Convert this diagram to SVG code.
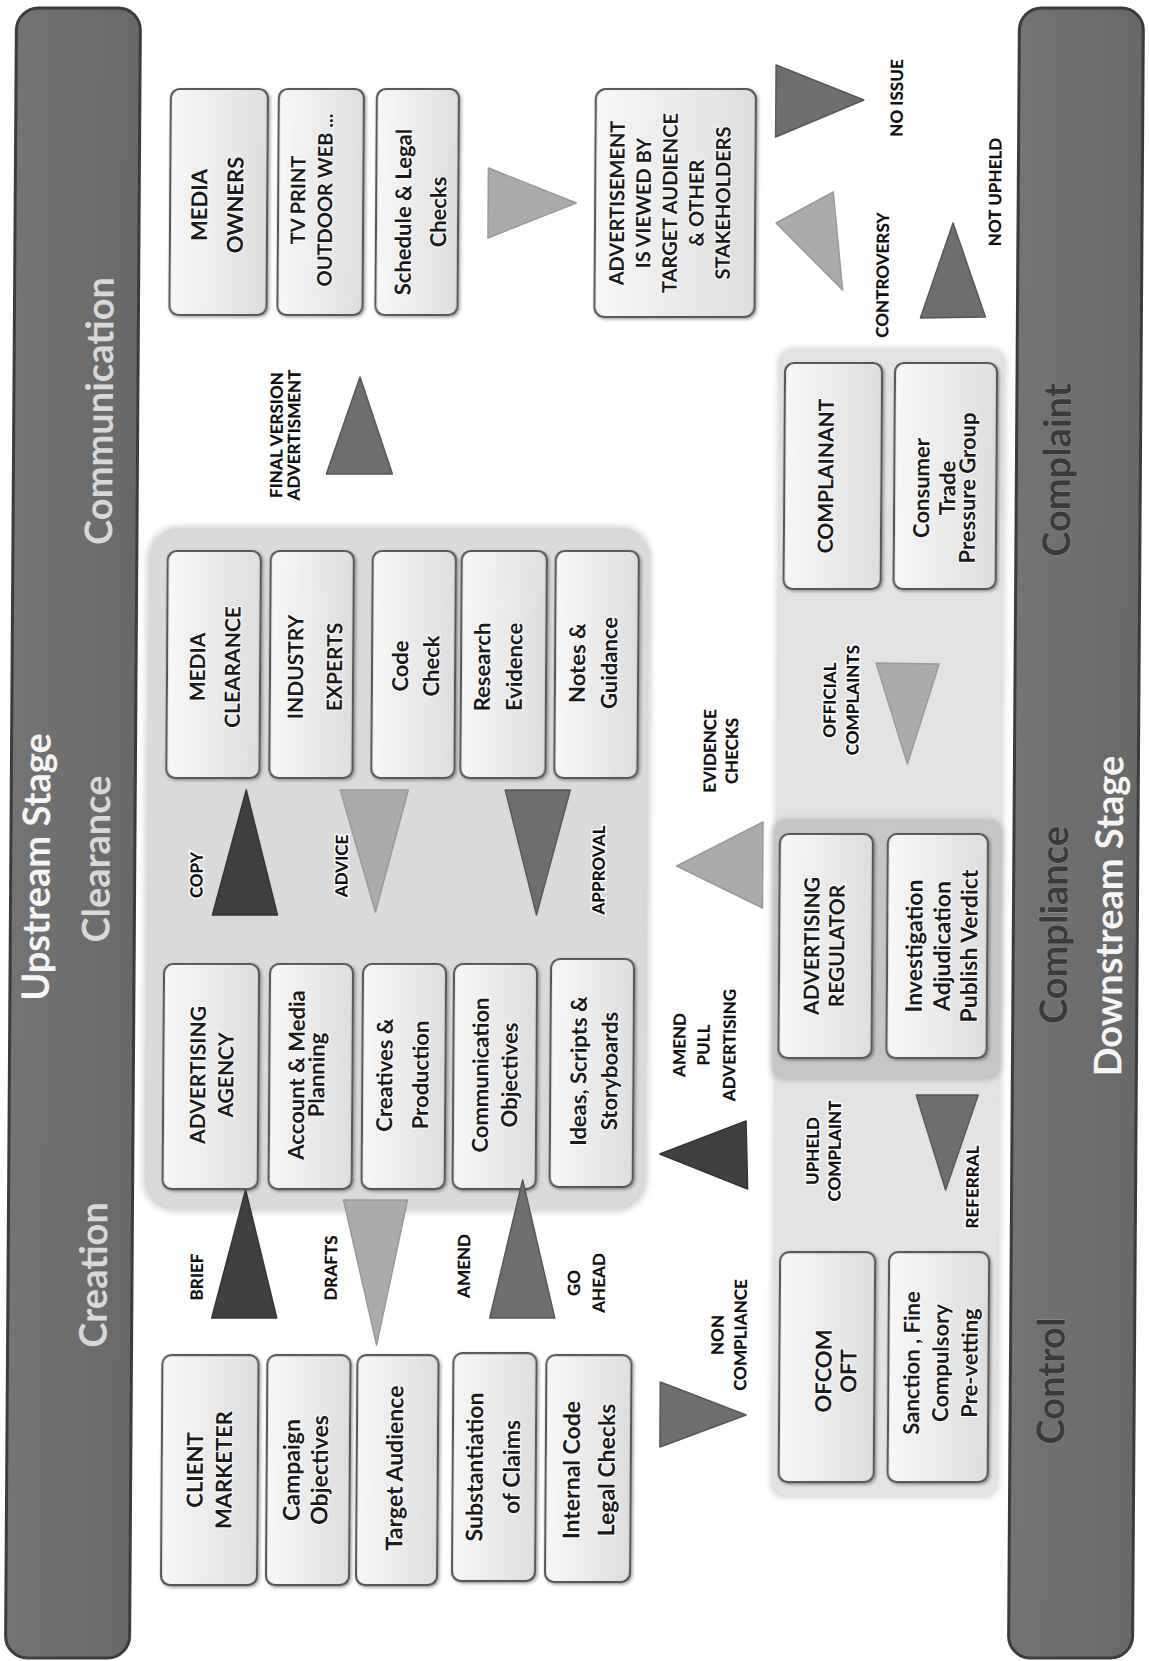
<svg xmlns="http://www.w3.org/2000/svg" width="1149" height="1661" viewBox="0 0 1149 1661">
  <defs>
    <linearGradient id="boxFill" x1="0" y1="0" x2="1" y2="0">
      <stop offset="0" stop-color="#f7f7f7"/>
      <stop offset="1" stop-color="#dedede"/>
    </linearGradient>
    <linearGradient id="barFill" x1="0" y1="0" x2="1" y2="0">
      <stop offset="0" stop-color="#747474"/>
      <stop offset="1" stop-color="#686868"/>
    </linearGradient>
    <filter id="soft" x="-10%" y="-10%" width="120%" height="120%">
      <feGaussianBlur stdDeviation="3"/>
    </filter>
    <filter id="shadow" x="-10%" y="-10%" width="120%" height="120%">
      <feDropShadow dx="1.5" dy="1.5" stdDeviation="1.5" flood-color="#000" flood-opacity="0.35"/>
    </filter>
  </defs>
  <style>
    .bar { fill: url(#barFill); stroke: #3c3c3c; stroke-width: 3; }
    .barStage { font-family: Lato, 'Open Sans', 'DejaVu Sans', sans-serif; font-weight: 700; font-size: 38px; fill: #f5f5f5; text-anchor: middle; }
    .barLight { font-family: Lato, 'Open Sans', 'DejaVu Sans', sans-serif; font-weight: 700; font-size: 38px; fill: #d8d8d8; text-anchor: middle; }
    .barDark { font-family: Lato, 'Open Sans', 'DejaVu Sans', sans-serif; font-weight: 700; font-size: 38px; fill: #3a3a3a; text-anchor: middle; stroke: #8a8a8a; stroke-width: 1.2; paint-order: stroke; }
    .box { fill: url(#boxFill); stroke: #585858; stroke-width: 2.2; filter: url(#shadow); }
    .nt { font-family: Lato, 'Open Sans', 'DejaVu Sans', sans-serif; font-weight: 700; fill: #1a1a1a; text-anchor: middle; stroke: #ffffff; stroke-width: 2; paint-order: stroke; }
    .lbl { font-family: Lato, 'Open Sans', 'DejaVu Sans', sans-serif; font-weight: 900; font-size: 17px; fill: #111; text-anchor: middle; stroke: #fff; stroke-width: 3; paint-order: stroke; }
    .triDark { fill: #404040; stroke: #333; stroke-width: 1.5; stroke-linejoin: round; }
    .triMid { fill: #6e6e6e; stroke: #575757; stroke-width: 1.5; stroke-linejoin: round; }
    .triLight { fill: #ababab; stroke: #9a9a9a; stroke-width: 1.5; stroke-linejoin: round; }
  </style>

  <rect x="0" y="0" width="1149" height="1661" fill="#ffffff"/>

  <!-- whole figure sits slightly sheared, as printed -->
  <g transform="translate(5.53,0) skewX(-0.382)">

    <!-- lane header bars -->
    <g id="upstream-bar">
      <rect class="bar" x="11" y="8" width="124" height="1650" rx="22"/>
      <text class="barStage" transform="translate(0,867) rotate(-90)"><tspan x="0" y="50">Upstream Stage</tspan></text>
      <text class="barLight" transform="translate(0,411) rotate(-90)"><tspan x="0" y="110">Communication</tspan></text>
      <text class="barLight" transform="translate(0,859) rotate(-90)"><tspan x="0" y="110">Clearance</tspan></text>
      <text class="barLight" transform="translate(0,1275) rotate(-90)"><tspan x="0" y="110">Creation</tspan></text>
    </g>
    <g id="downstream-bar">
      <rect class="bar" x="1014" y="8" width="124" height="1650" rx="22"/>
      <text class="barDark" transform="translate(0,470) rotate(-90)"><tspan x="0" y="1068">Complaint</tspan></text>
      <text class="barDark" transform="translate(0,925) rotate(-90)"><tspan x="0" y="1068">Compliance</tspan></text>
      <text class="barDark" transform="translate(0,1381) rotate(-90)"><tspan x="0" y="1068">Control</tspan></text>
      <text class="barStage" transform="translate(0,916) rotate(-90)"><tspan x="0" y="1123">Downstream Stage</tspan></text>
    </g>

    <!-- background panels -->
    <g id="clearance-panel">
      <rect x="145" y="526" width="505" height="686" rx="32" fill="#d2d2d2" filter="url(#soft)"/>
      <rect x="149" y="530" width="497" height="678" rx="30" fill="#dadada"/>
    </g>
    <g id="downstream-panel">
      <rect x="775" y="348" width="228" height="1150" rx="14" fill="#d6d6d6" filter="url(#soft)"/>
      <rect x="778" y="351" width="222" height="1144" rx="12" fill="#e3e3e3"/>
    </g>
    <g id="regulator-panel">
      <rect x="773" y="819" width="229" height="261" rx="14" fill="#b4b4b4" filter="url(#soft)"/>
      <rect x="775" y="821" width="225" height="257" rx="13" fill="#c6c6c6"/>
    </g>

    <!-- communication column -->
    <g id="media-owners">
      <rect class="box" x="166" y="89" width="97" height="226" rx="9"/>
      <text class="nt" font-size="22" transform="translate(0,205) rotate(-90)"><tspan x="0" y="203">MEDIA</tspan><tspan x="0" y="239">OWNERS</tspan></text>
    </g>
    <g id="media-channels">
      <rect class="box" x="274" y="89" width="85" height="226" rx="9"/>
      <text class="nt" font-size="20" transform="translate(0,200) rotate(-90)"><tspan x="0" y="301">TV PRINT</tspan><tspan x="0" y="328">OUTDOOR WEB ...</tspan></text>
    </g>
    <g id="schedule-checks">
      <rect class="box" x="372" y="89" width="82" height="226" rx="9"/>
      <text class="nt" font-size="22" transform="translate(0,212) rotate(-90)"><tspan x="0" y="407">Schedule &amp; Legal</tspan><tspan x="0" y="442">Checks</tspan></text>
    </g>
    <g id="ad-viewed">
      <rect class="box" x="591" y="89" width="160" height="228" rx="10"/>
      <text class="nt" font-size="20" transform="translate(0,203) rotate(-90)"><tspan x="0" y="620">ADVERTISEMENT</tspan><tspan x="0" y="646.5">IS VIEWED BY</tspan><tspan x="0" y="673">TARGET AUDIENCE</tspan><tspan x="0" y="699.5">&amp; OTHER</tspan><tspan x="0" y="726">STAKEHOLDERS</tspan></text>
    </g>

    <!-- clearance column -->
    <g id="media-clearance">
      <rect class="box" x="166" y="551" width="93" height="227" rx="9"/>
      <text class="nt" font-size="21" transform="translate(0,667) rotate(-90)"><tspan x="0" y="204">MEDIA</tspan><tspan x="0" y="239">CLEARANCE</tspan></text>
    </g>
    <g id="industry-experts">
      <rect class="box" x="269" y="551" width="83" height="227" rx="9"/>
      <text class="nt" font-size="21" transform="translate(0,667) rotate(-90)"><tspan x="0" y="302">INDUSTRY</tspan><tspan x="0" y="341">EXPERTS</tspan></text>
    </g>
    <g id="code-check">
      <rect class="box" x="371" y="551" width="83" height="227" rx="9"/>
      <text class="nt" font-size="22" transform="translate(0,666) rotate(-90)"><tspan x="0" y="407">Code</tspan><tspan x="0" y="438">Check</tspan></text>
    </g>
    <g id="research-evidence">
      <rect class="box" x="460" y="551" width="85" height="227" rx="9"/>
      <text class="nt" font-size="22" transform="translate(0,667) rotate(-90)"><tspan x="0" y="489">Research</tspan><tspan x="0" y="521">Evidence</tspan></text>
    </g>
    <g id="notes-guidance">
      <rect class="box" x="554" y="551" width="83" height="227" rx="9"/>
      <text class="nt" font-size="22" transform="translate(0,663) rotate(-90)"><tspan x="0" y="584">Notes &amp;</tspan><tspan x="0" y="616">Guidance</tspan></text>
    </g>
    <g id="advertising-agency">
      <rect class="box" x="165" y="964" width="95" height="225" rx="9"/>
      <text class="nt" font-size="21" transform="translate(0,1075) rotate(-90)"><tspan x="0" y="207">ADVERTISING</tspan><tspan x="0" y="235">AGENCY</tspan></text>
    </g>
    <g id="account-planning">
      <rect class="box" x="271" y="964" width="83" height="225" rx="9"/>
      <text class="nt" font-size="22" transform="translate(0,1075) rotate(-90)"><tspan x="0" y="306">Account &amp; Media</tspan><tspan x="0" y="326">Planning</tspan></text>
    </g>
    <g id="creatives-production">
      <rect class="box" x="364" y="964" width="83" height="225" rx="9"/>
      <text class="nt" font-size="22" transform="translate(0,1075) rotate(-90)"><tspan x="0" y="394">Creatives &amp;</tspan><tspan x="0" y="430">Production</tspan></text>
    </g>
    <g id="communication-objectives">
      <rect class="box" x="455" y="964" width="83" height="225" rx="9"/>
      <text class="nt" font-size="22" transform="translate(0,1075) rotate(-90)"><tspan x="0" y="490">Communication</tspan><tspan x="0" y="519">Objectives</tspan></text>
    </g>
    <g id="ideas-storyboards">
      <rect class="box" x="552" y="959" width="83" height="228" rx="9"/>
      <text class="nt" font-size="22" transform="translate(0,1071) rotate(-90)"><tspan x="0" y="588">Ideas, Scripts &amp;</tspan><tspan x="0" y="619">Storyboards</tspan></text>
    </g>

    <!-- creation column -->
    <g id="client-marketer">
      <rect class="box" x="166" y="1355" width="96" height="230" rx="9"/>
      <text class="nt" font-size="22" transform="translate(0,1470) rotate(-90)"><tspan x="0" y="207">CLIENT</tspan><tspan x="0" y="236">MARKETER</tspan></text>
    </g>
    <g id="campaign-objectives">
      <rect class="box" x="271" y="1355" width="83" height="230" rx="9"/>
      <text class="nt" font-size="23" transform="translate(0,1470) rotate(-90)"><tspan x="0" y="304">Campaign</tspan><tspan x="0" y="332">Objectives</tspan></text>
    </g>
    <g id="target-audience">
      <rect class="box" x="361" y="1355" width="81" height="230" rx="9"/>
      <text class="nt" font-size="23" transform="translate(0,1468) rotate(-90)"><tspan x="0" y="407">Target Audience</tspan></text>
    </g>
    <g id="substantiation">
      <rect class="box" x="457" y="1353" width="83" height="228" rx="9"/>
      <text class="nt" font-size="23" transform="translate(0,1467) rotate(-90)"><tspan x="0" y="487">Substantiation</tspan><tspan x="0" y="524">of Claims</tspan></text>
    </g>
    <g id="internal-checks">
      <rect class="box" x="550" y="1355" width="85" height="227" rx="9"/>
      <text class="nt" font-size="23" transform="translate(0,1470) rotate(-90)"><tspan x="0" y="584">Internal Code</tspan><tspan x="0" y="619">Legal Checks</tspan></text>
    </g>

    <!-- downstream column -->
    <g id="complainant">
      <rect class="box" x="782" y="363" width="97" height="226" rx="9"/>
      <text class="nt" font-size="21" transform="translate(0,476) rotate(-90)"><tspan x="0" y="831">COMPLAINANT</tspan></text>
    </g>
    <g id="complainant-types">
      <rect class="box" x="892" y="363" width="102" height="226" rx="9"/>
      <text class="nt" font-size="22" transform="translate(0,488) rotate(-90)"><tspan x="0" y="927">Consumer</tspan><tspan x="0" y="953">Trade</tspan><tspan x="0" y="973">Pressure Group</tspan></text>
    </g>
    <g id="advertising-regulator">
      <rect class="box" x="780" y="834" width="93" height="224" rx="9"/>
      <text class="nt" font-size="21" transform="translate(0,946) rotate(-90)"><tspan x="0" y="820">ADVERTISING</tspan><tspan x="0" y="845">REGULATOR</tspan></text>
    </g>
    <g id="investigation">
      <rect class="box" x="888" y="834" width="100" height="224" rx="9"/>
      <text class="nt" font-size="23" transform="translate(0,946) rotate(-90)"><tspan x="0" y="923">Investigation</tspan><tspan x="0" y="951">Adjudication</tspan><tspan x="0" y="978">Publish Verdict</tspan></text>
    </g>
    <g id="ofcom-oft">
      <rect class="box" x="783" y="1252" width="95" height="230" rx="9"/>
      <text class="nt" font-size="22" transform="translate(0,1371) rotate(-90)"><tspan x="0" y="835">OFCOM</tspan><tspan x="0" y="860">OFT</tspan></text>
    </g>
    <g id="sanctions">
      <rect class="box" x="892" y="1252" width="100" height="230" rx="9"/>
      <text class="nt" font-size="22" transform="translate(0,1363) rotate(-90)"><tspan x="0" y="923">Sanction , Fine</tspan><tspan x="0" y="952">Compulsory</tspan><tspan x="0" y="981">Pre-vetting</tspan></text>
    </g>

    <!-- flow arrows and their labels -->
    <g id="connectors">
      <polygon class="triMid" points="324,474 390,474 357,377"/>
      <polygon class="triLight" points="484,168 484,238 572,203"/>
      <polygon class="triMid" points="771,65 771,137 859,100"/>
      <polygon class="triLight" points="772,223 829,192 839,290"/>
      <polygon class="triMid" points="949,223 917,318 982,317"/>
      <polygon class="triLight" points="875,663 938,664 907,764"/>
      <polygon class="triDark" points="213,915 278,915 246,790"/>
      <polygon class="triLight" points="340,790 408,790 376,912"/>
      <polygon class="triMid" points="505,790 570,790 537,915"/>
      <polygon class="triLight" points="677,866 763,822 763,908"/>
      <polygon class="triDark" points="662,1154 748,1121 750,1189"/>
      <polygon class="triMid" points="918,1095 980,1095 948,1190"/>
      <polygon class="triDark" points="215,1318 280,1318 248,1190"/>
      <polygon class="triLight" points="346,1200 410,1200 380,1345"/>
      <polygon class="triMid" points="493,1318 558,1318 525,1180"/>
      <polygon class="triMid" points="664,1382 664,1447 750,1415"/>

      <text class="lbl" font-size="18" transform="translate(0,435) rotate(-90)"><tspan x="0" y="280">FINAL VERSION</tspan><tspan x="0" y="297.5">ADVERTISMENT</tspan></text>
      <text class="lbl" transform="translate(0,98) rotate(-90)"><tspan x="0" y="898">NO ISSUE</tspan></text>
      <text class="lbl" transform="translate(0,275) rotate(-90)"><tspan x="0" y="885">CONTROVERSY</tspan></text>
      <text class="lbl" transform="translate(0,192) rotate(-90)"><tspan x="0" y="997">NOT UPHELD</tspan></text>
      <text class="lbl" transform="translate(0,700) rotate(-90)"><tspan x="0" y="835">OFFICIAL</tspan><tspan x="0" y="858">COMPLAINTS</tspan></text>
      <text class="lbl" transform="translate(0,875) rotate(-90)"><tspan x="0" y="203">COPY</tspan></text>
      <text class="lbl" transform="translate(0,866) rotate(-90)"><tspan x="0" y="348">ADVICE</tspan></text>
      <text class="lbl" transform="translate(0,870) rotate(-90)"><tspan x="0" y="605">APPROVAL</tspan></text>
      <text class="lbl" transform="translate(0,751) rotate(-90)"><tspan x="0" y="715.5">EVIDENCE</tspan><tspan x="0" y="737.5">CHECKS</tspan></text>
      <text class="lbl" transform="translate(0,1045) rotate(-90)"><tspan x="0" y="687">AMEND</tspan><tspan x="0" y="711">PULL</tspan><tspan x="0" y="737">ADVERTISING</tspan></text>
      <text class="lbl" transform="translate(0,1151) rotate(-90)"><tspan x="0" y="821">UPHELD</tspan><tspan x="0" y="843">COMPLAINT</tspan></text>
      <text class="lbl" transform="translate(0,1187) rotate(-90)"><tspan x="0" y="981">REFERRAL</tspan></text>
      <text class="lbl" transform="translate(0,1277) rotate(-90)"><tspan x="0" y="206">BRIEF</tspan></text>
      <text class="lbl" transform="translate(0,1268) rotate(-90)"><tspan x="0" y="340">DRAFTS</tspan></text>
      <text class="lbl" transform="translate(0,1266) rotate(-90)"><tspan x="0" y="473">AMEND</tspan></text>
      <text class="lbl" transform="translate(0,1283) rotate(-90)"><tspan x="0" y="583">GO</tspan><tspan x="0" y="608">AHEAD</tspan></text>
      <text class="lbl" transform="translate(0,1335) rotate(-90)"><tspan x="0" y="727">NON</tspan><tspan x="0" y="750">COMPLIANCE</tspan></text>
    </g>
  </g>
</svg>
